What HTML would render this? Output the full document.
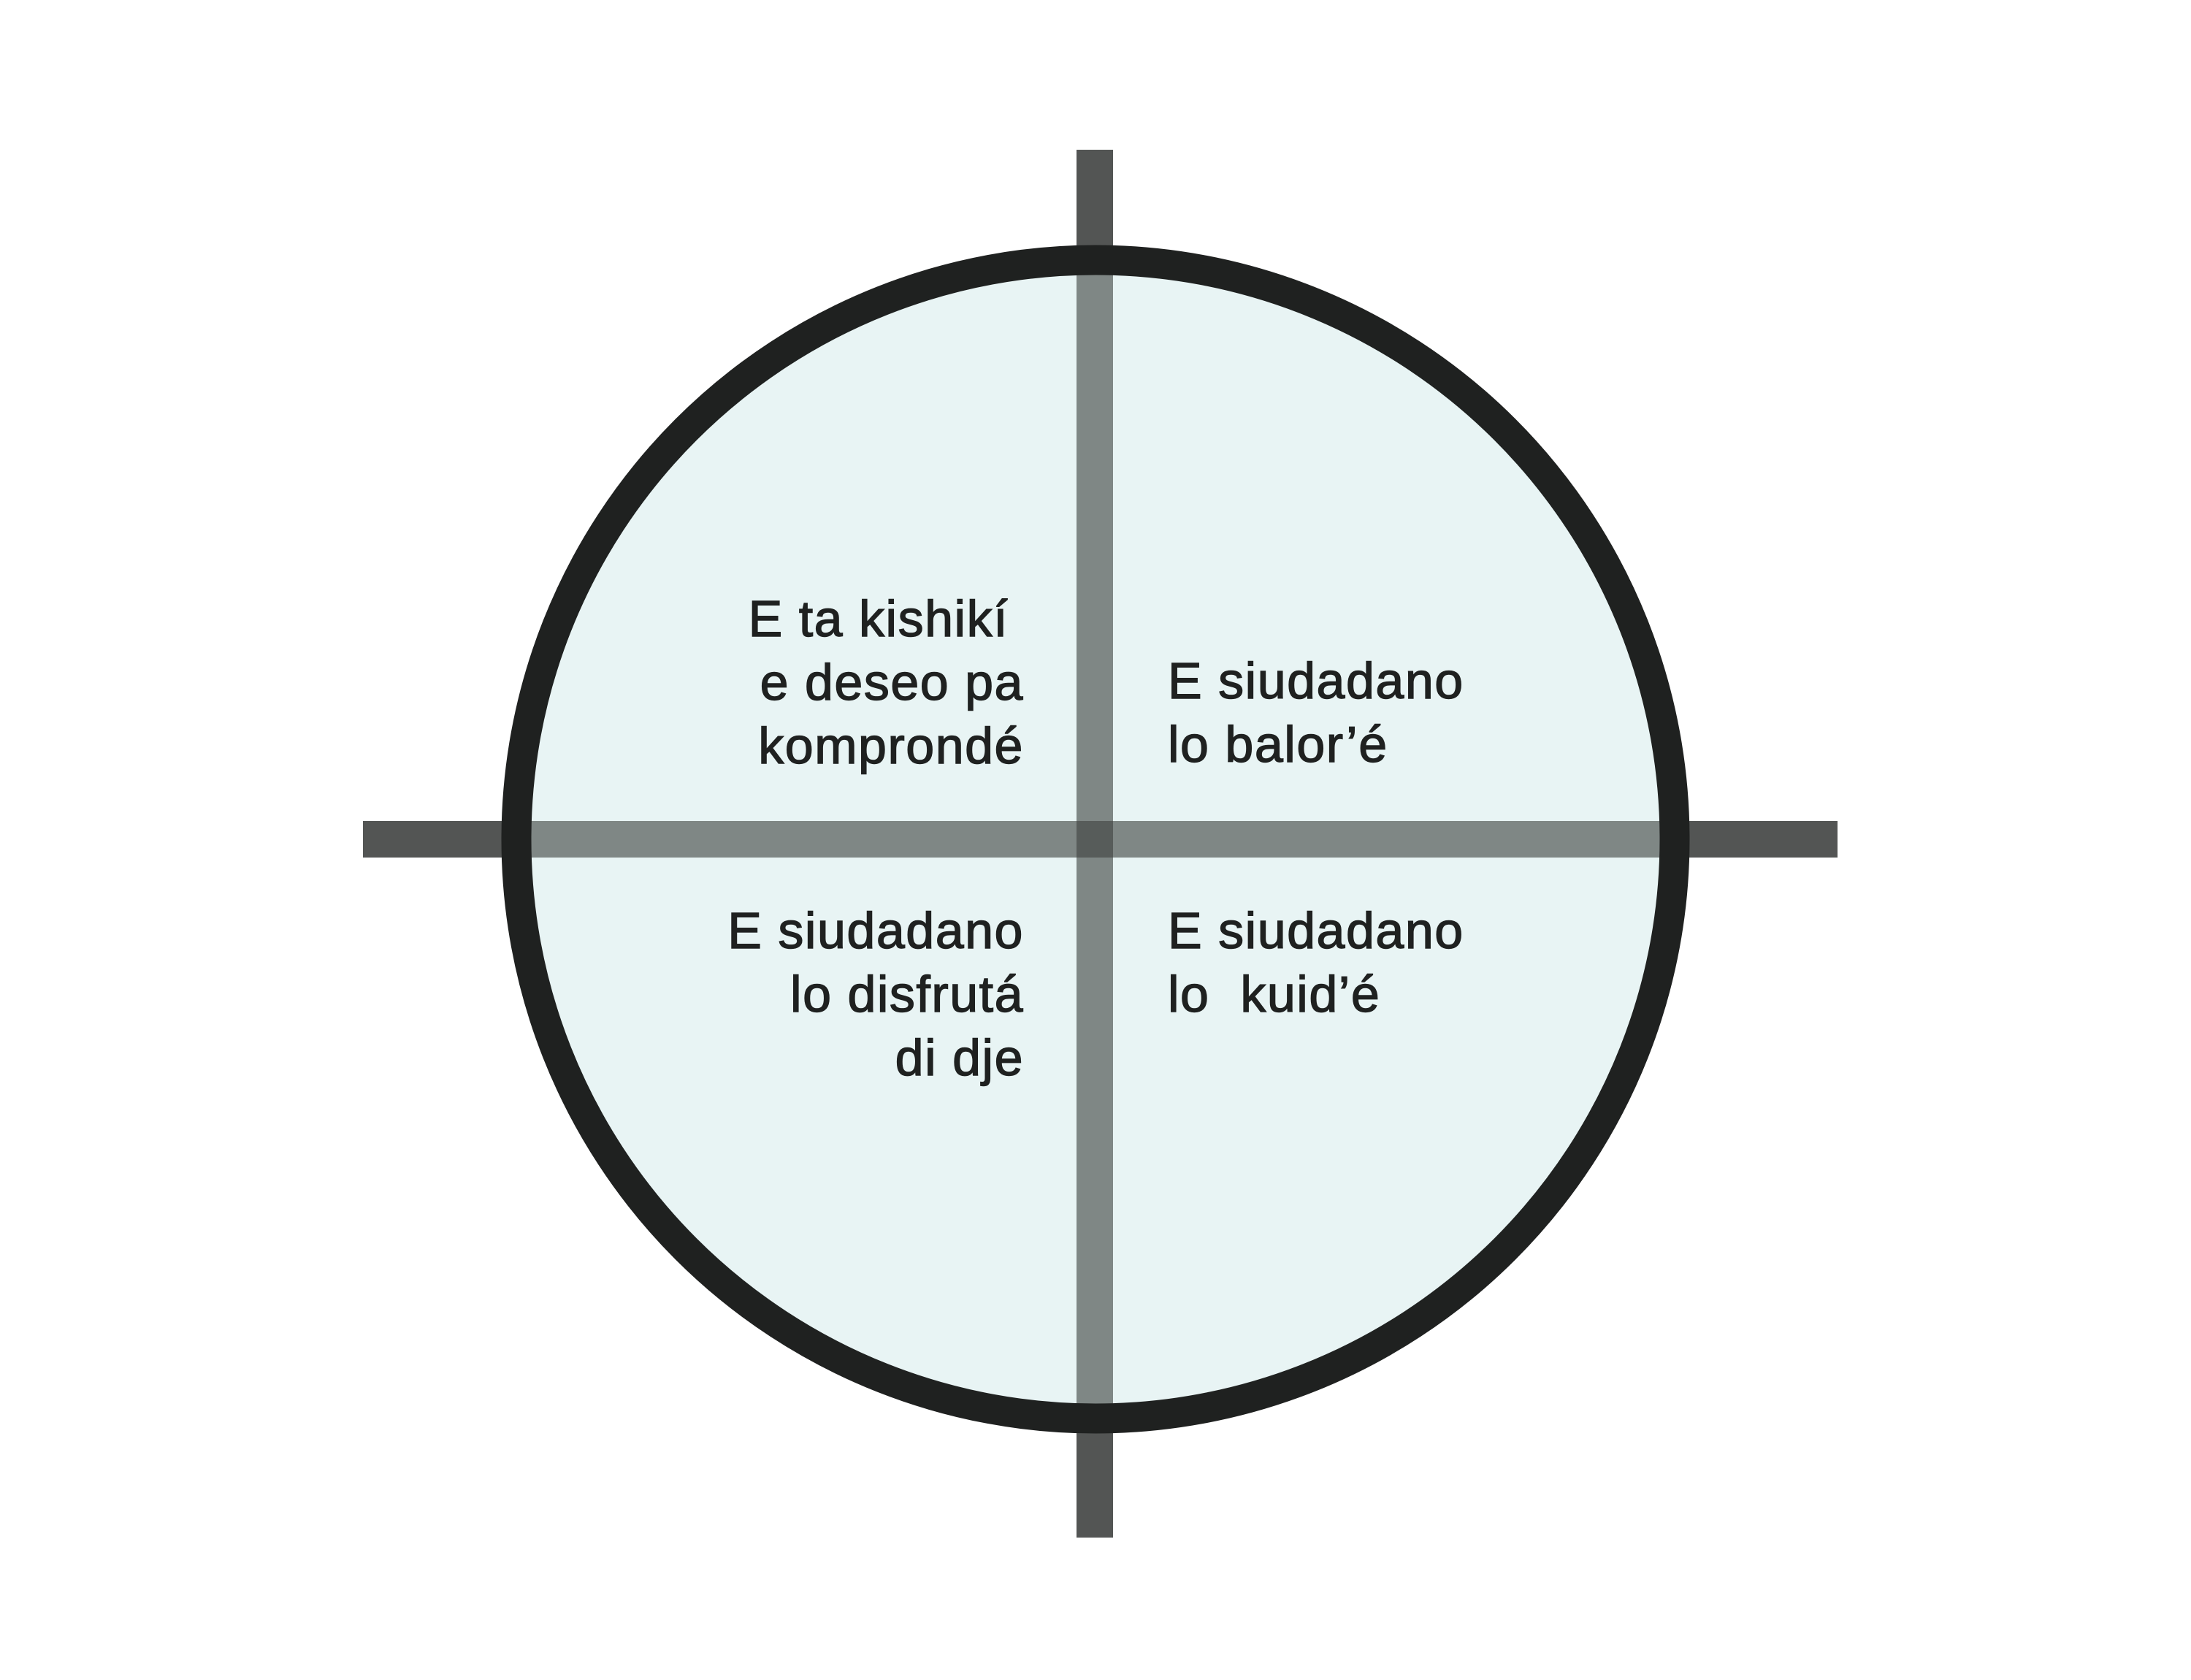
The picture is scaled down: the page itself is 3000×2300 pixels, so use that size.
<!DOCTYPE html>
<html><head><meta charset="utf-8"><style>
html,body{margin:0;padding:0;background:#fff;}
body{width:3000px;height:2300px;position:relative;overflow:hidden;}
.t{position:absolute;font-family:"Liberation Sans",sans-serif;font-size:70px;line-height:87px;letter-spacing:1.5px;color:#1f2120;white-space:pre;-webkit-text-stroke:1.4px #1f2120;}
.l{right:1598px;text-align:right;}
.r{left:1599px;text-align:left;}
</style></head><body>
<svg width="3000" height="2300" style="position:absolute;left:0;top:0">
<rect x="497" y="1124" width="2019" height="50" fill="#535554"/>
<rect x="1474" y="205" width="50" height="1900" fill="#535554"/>
<circle cx="1500" cy="1149" r="793" fill="#e8f4f4"/>
<rect x="707" y="1124" width="1586" height="50" fill="#7f8785"/>
<rect x="1474" y="356" width="50" height="1586" fill="#7f8785"/>
<rect x="1474" y="1124" width="50" height="50" fill="#575c5a"/>
<circle cx="1500" cy="1149" r="793" fill="none" stroke="#1f2120" stroke-width="41"/>
</svg>
<div class="t l" style="top:804px">E ta kishikí 
e deseo pa
komprondé</div>
<div class="t r" style="top:889px">E siudadano
lo balor’é</div>
<div class="t l" style="top:1231px">E siudadano
lo disfrutá
di dje</div>
<div class="t r" style="top:1231px">E siudadano
lo  kuid’é</div>
</body></html>
